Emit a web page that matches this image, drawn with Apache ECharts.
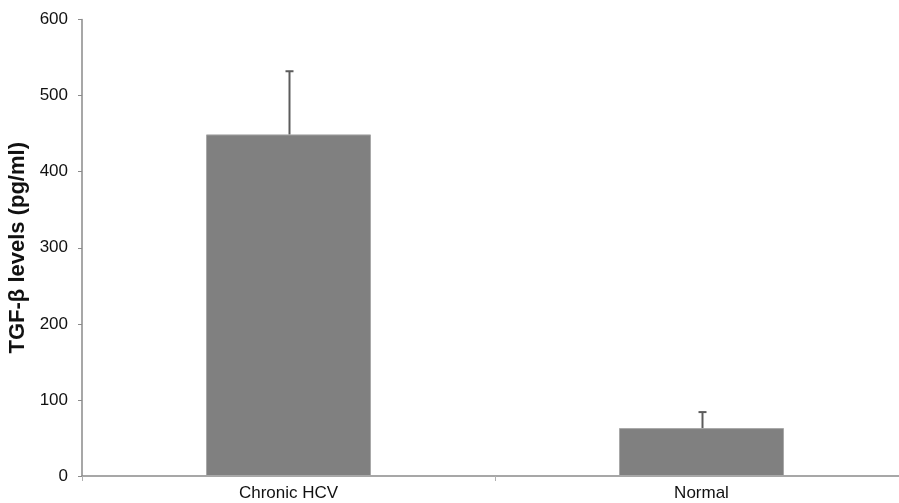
<!DOCTYPE html>
<html>
<head>
<meta charset="utf-8">
<script src="https://cdn.jsdelivr.net/npm/echarts@6/dist/echarts.min.js"></script>
<style>
  html, body { margin: 0; padding: 0; background: #fff; overflow: hidden; }
  #chart { width: 908px; height: 503px; }
</style>
</head>
<body>
<div id="chart"></div>
<script>
const categories = ['Chronic HCV', 'Normal']
const means = [449, 63]
const errors = [83, 21]
const yTicks = [0, 100, 200, 300, 400, 500, 600]

const chart = echarts.init(document.getElementById('chart'))

const errorData = categories.map((c, i) => [i, means[i], means[i] + errors[i]])

const option = {
  animation: false,
  grid: { left: 82, top: 19.5, right: 0, bottom: 27, containLabel: false, outerBoundsMode: 'none' },
  xAxis: {
    type: 'category',
    data: categories,
    axisLine: { lineStyle: { color: '#8a8a8a', width: 1.5 } },
    axisTick: { show: true, length: 5, lineStyle: { color: '#b0b0b0' } },
    axisLabel: { color: '#111', fontSize: 17, fontFamily: 'Liberation Sans', margin: 9 }
  },
  yAxis: {
    type: 'value',
    min: yTicks[0],
    max: yTicks[yTicks.length - 1],
    interval: 100,
    name: 'TGF-β levels (pg/ml)',
    nameLocation: 'middle',
    nameGap: 45,
    nameTextStyle: { color: '#111', fontSize: 22, fontWeight: 'bold', fontFamily: 'Liberation Sans' },
    axisLine: { show: true, lineStyle: { color: '#8a8a8a', width: 1.5 } },
    axisTick: { show: true, length: 4, lineStyle: { color: '#8a8a8a' } },
    axisLabel: { color: '#111', fontSize: 17, fontFamily: 'Liberation Sans', margin: 14 },
    splitLine: { show: false }
  },
  series: [
    {
      type: 'bar',
      data: means,
      barWidth: 165,
      itemStyle: { color: '#808080', borderColor: '#a8a8a8', borderWidth: 1 }
    },
    {
      type: 'custom',
      data: errorData,
      z: 5,
      renderItem: (params, api) => {
        const base = api.coord([api.value(0), api.value(1)])
        const top = api.coord([api.value(0), api.value(2)])
        const x = Math.round(base[0]) + 0.5
        const style = { stroke: '#5c5c5c', lineWidth: 2 }
        return {
          type: 'group',
          children: [
            { type: 'line', shape: { x1: x, y1: base[1], x2: x, y2: top[1] }, style },
            { type: 'line', shape: { x1: x - 4, y1: top[1], x2: x + 4, y2: top[1] }, style }
          ]
        }
      }
    }
  ]
}

chart.setOption(option)
</script>
</body>
</html>
